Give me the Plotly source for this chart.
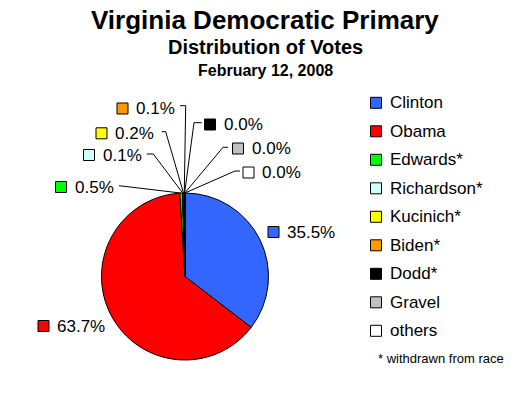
import math
import plotly.graph_objects as go

# ---- data ----
candidates = ["Clinton", "Obama", "Edwards*", "Richardson*", "Kucinich*", "Biden*", "Dodd*", "Gravel", "others"]
pct = [35.5, 63.7, 0.5, 0.1, 0.2, 0.1, 0.04, 0.03, 0.02]
slice_colors = ["#3366FF", "#FF0000", "#00FF00", "#CCFFFF", "#FFFF00", "#FF9900", "#000000", "#C0C0C0", "#FFFFFF"]
title = "Virginia Democratic Primary"
subtitle = "Distribution of Votes"
date_text = "February 12, 2008"
footnote = "* withdrawn from race"

# ---- layout (screen pixel coordinates; page body has an 8px margin) ----
OFF = 8
W, H = 530 - OFF, 393 - OFF
CX, CY, R = 185.0, 276.5, 83.5
FONT = "Liberation Sans, Arial, sans-serif"

# label box left x, centre y ; leader line start and knee (None = no leader)
label_box = [(268, 232), (38, 326), (55.5, 187), (83.5, 155), (96, 133.3),
             (117, 108.5), (204.5, 124.5), (232.5, 148.5), (243, 172.5)]
leader = [None, None,
          [(119, 185.7)],
          [(146.7, 154), (153.3, 154)],
          [(161.7, 131.7), (165.7, 131.7)],
          [(180, 105.7), (185.7, 105.7)],
          [(201.7, 122.7), (194, 122.7)],
          [(228, 147.3), (223, 147.3)],
          [(240, 171), (235, 171)]]

fig = go.Figure()
fig.add_trace(go.Pie(
    values=pct, labels=candidates, sort=False, direction="clockwise", rotation=0,
    marker=dict(colors=slice_colors, line=dict(color="black", width=1)),
    textinfo="none", hoverinfo="label+percent", showlegend=False,
    domain=dict(x=[(CX - R - OFF) / W, (CX + R - OFF) / W],
                y=[(393 - CY - R) / H, (393 - CY + R) / H]),
))

shapes = []
annotations = []
total = sum(pct)
cum = 0.0
for i, v in enumerate(pct):
    mid = (cum + v / 2) / total
    cum += v
    ang = 2 * math.pi * mid
    ex, ey = CX + R * math.sin(ang), CY - R * math.cos(ang)
    bx, by = label_box[i]
    shapes.append(dict(type="rect", xref="x", yref="y", x0=bx, x1=bx + 11, y0=by - 5.5, y1=by + 5.5,
                       fillcolor=slice_colors[i], line=dict(color="black", width=1)))
    annotations.append(dict(x=bx + 17, y=by, xref="x", yref="y", xanchor="left", yanchor="middle",
                            text=f"{v:.1f}%", showarrow=False, font=dict(family=FONT, size=17, color="black")))
    if leader[i]:
        pts = leader[i] + [(ex, ey)]
        fig.add_trace(go.Scatter(x=[p[0] for p in pts], y=[p[1] for p in pts], mode="lines",
                                 line=dict(color="black", width=1), hoverinfo="skip", showlegend=False))

# manual legend
LX, LY0, LDY = 370.5, 102.8, 28.5
for i, name in enumerate(candidates):
    y = LY0 + i * LDY
    shapes.append(dict(type="rect", xref="x", yref="y", x0=LX, x1=LX + 11, y0=y - 5.5, y1=y + 5.5,
                       fillcolor=slice_colors[i], line=dict(color="black", width=1)))
    annotations.append(dict(x=LX + 17, y=y, xref="x", yref="y", xanchor="left", yanchor="middle",
                            text=name, showarrow=False, font=dict(family=FONT, size=17, color="black")))
annotations.append(dict(x=376, y=358, xref="x", yref="y", xanchor="left", yanchor="middle",
                        text=footnote, showarrow=False, font=dict(family=FONT, size=13, color="black")))

# titles
annotations += [
    dict(x=265, y=19.5, xref="x", yref="y", xanchor="center", yanchor="middle", showarrow=False, borderpad=0,
         text=f"<b>{title}</b>", font=dict(family=FONT, size=26, color="black")),
    dict(x=265, y=47, xref="x", yref="y", xanchor="center", yanchor="middle", showarrow=False, borderpad=0,
         text=f"<b>{subtitle}</b>", font=dict(family=FONT, size=20, color="black")),
    dict(x=265, y=70, xref="x", yref="y", xanchor="center", yanchor="middle", showarrow=False, borderpad=0,
         text=f"<b>{date_text}</b>", font=dict(family=FONT, size=16, color="black")),
]

fig.update_layout(
    width=W, height=H, margin=dict(l=0, r=0, t=0, b=0),
    paper_bgcolor="white", plot_bgcolor="rgba(0,0,0,0)",
    xaxis=dict(range=[OFF, 530], visible=False, fixedrange=True),
    yaxis=dict(range=[393, OFF], visible=False, fixedrange=True),
    shapes=shapes, annotations=annotations, showlegend=False,
)
fig.write_html("out.html")
